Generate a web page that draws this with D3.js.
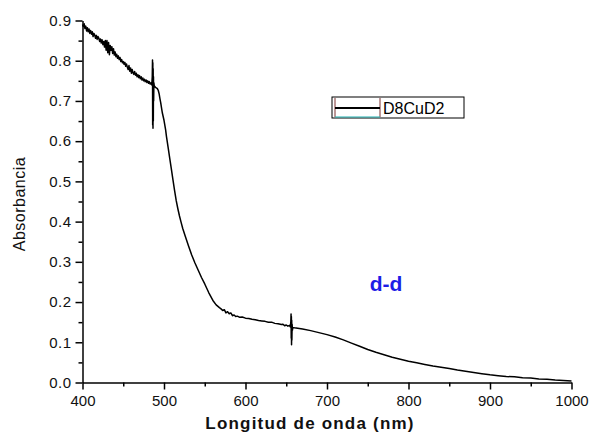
<!DOCTYPE html>
<html>
<head>
<meta charset="utf-8">
<script src="https://cdn.jsdelivr.net/npm/d3@7"></script>
<style>
  body { margin: 0; background: #fff; }
  text { font-family: "Liberation Sans", Arial, sans-serif; }
</style>
</head>
<body>
<script>
// longitud de onda (nm)
let wavelength = [
  400, 401, 402, 403, 404, 405, 406, 407, 408, 409,
  410, 411, 412, 413, 414, 415, 416, 417, 418, 419,
  420, 421, 422, 423, 424, 425, 426, 427, 428, 429,
  430, 431, 432, 433, 434, 435, 436, 437, 438, 439,
  440, 441, 442, 443, 444, 445, 446, 447, 448, 449,
  450, 451, 452, 453, 454, 455, 456, 457, 458, 459,
  460, 461, 462, 463, 464, 465, 466, 467, 468, 469,
  470, 471, 472, 473, 474, 475, 476, 477, 478, 479,
  480, 481, 482, 483, 484, 485,
  485.6, 485.9, 486.1, 486.3, 486.5, 486.7, 486.9, 487.1, 487.3, 487.6,
  488, 489, 490, 491, 492, 493, 494, 495, 496, 497, 498,
  500, 502, 503, 505, 507, 509, 511, 513, 515, 517,
  519, 521, 523, 526, 530, 534, 538, 542, 546, 550,
  555, 560, 564, 568, 570, 572, 574, 576, 578, 580,
  582, 584, 586, 588, 590,
  593, 596, 600, 604, 608, 612, 616, 620, 624, 628,
  632, 636, 640, 644, 646, 648, 650, 652, 654, 655,
  655.6, 655.9, 656.1, 656.3, 656.5, 656.7, 656.9, 657.2, 657.6, 658,
  660, 670, 680, 690, 700, 710, 720, 730, 740,
  750, 760, 770, 780, 790, 800, 810, 820, 830, 840,
  850, 860, 870, 880, 890, 900, 910, 920, 930, 940,
  950, 960, 970, 980, 990, 1000
];

// absorbancia D8CuD2
let absorbance = [
  0.890, 0.885, 0.892, 0.880, 0.886, 0.874, 0.882, 0.872, 0.879, 0.868,
  0.875, 0.866, 0.872, 0.860, 0.868, 0.864, 0.856, 0.863, 0.853, 0.860,
  0.856, 0.848, 0.854, 0.844, 0.852, 0.840, 0.848, 0.834, 0.850, 0.826,
  0.850, 0.820, 0.845, 0.815, 0.838, 0.826, 0.835, 0.818, 0.830, 0.814,
  0.822, 0.810, 0.816, 0.806, 0.812, 0.803, 0.808, 0.798, 0.803, 0.795,
  0.798, 0.791, 0.796, 0.786, 0.792, 0.784, 0.778, 0.788, 0.774, 0.782,
  0.769, 0.778, 0.770, 0.766, 0.773, 0.764, 0.769, 0.760, 0.765, 0.758,
  0.763, 0.755, 0.760, 0.752, 0.757, 0.750, 0.754, 0.748, 0.752, 0.746,
  0.750, 0.744, 0.748, 0.742, 0.745, 0.740,
  0.760, 0.802, 0.640, 0.795, 0.632, 0.780, 0.650, 0.760, 0.700, 0.745,
  0.738, 0.735, 0.733, 0.732, 0.730, 0.726, 0.718, 0.706, 0.695, 0.682, 0.670,
  0.652, 0.628, 0.612, 0.585, 0.558, 0.531, 0.504, 0.477, 0.452, 0.432,
  0.414, 0.398, 0.383, 0.364, 0.340, 0.317, 0.297, 0.279, 0.261, 0.245,
  0.223, 0.204, 0.193, 0.186, 0.183, 0.179, 0.181, 0.173, 0.176, 0.171,
  0.173, 0.166, 0.168, 0.164, 0.165,
  0.162, 0.163, 0.160, 0.159, 0.157, 0.156, 0.154, 0.153, 0.152, 0.150,
  0.150, 0.147, 0.146, 0.144, 0.145, 0.141, 0.143, 0.140, 0.142, 0.138,
  0.150, 0.170, 0.110, 0.164, 0.094, 0.155, 0.105, 0.145, 0.130, 0.137,
  0.136, 0.133, 0.129, 0.124, 0.119, 0.113, 0.106, 0.098, 0.090,
  0.082, 0.075, 0.069, 0.063, 0.058, 0.053, 0.049, 0.045, 0.041, 0.038,
  0.035, 0.031, 0.028, 0.025, 0.022, 0.019, 0.017, 0.015, 0.014, 0.012,
  0.011, 0.009, 0.008, 0.006, 0.005, 0.004
];

let xTicks = [400, 500, 600, 700, 800, 900, 1000];
let yTicks = [0.0, 0.1, 0.2, 0.3, 0.4, 0.5, 0.6, 0.7, 0.8, 0.9];
let xMinor = [450, 550, 650, 750, 850, 950];
let yMinor = [0.05, 0.15, 0.25, 0.35, 0.45, 0.55, 0.65, 0.75, 0.85];

let width = 591;
let height = 434;

let svg = d3.select('body')
  .insert('svg', 'script')
  .attr('width', width)
  .attr('height', height);

// ejes
let x = d3.scaleLinear().domain([400, 1000]).range([82.5, 571.5]);
let y = d3.scaleLinear().domain([0, 0.9]).range([382.5, 20.5]);

let tickFont = '15px';

// minor ticks
svg.append('g')
  .attr('transform', 'translate(0,' + y(0) + ')')
  .call(d3.axisBottom(x).tickValues(xMinor).tickSize(4).tickFormat(''))
  .call(g => g.select('.domain').remove());
svg.append('g')
  .attr('transform', 'translate(' + x(400) + ',0)')
  .call(d3.axisLeft(y).tickValues(yMinor).tickSize(4).tickFormat(''))
  .call(g => g.select('.domain').remove());

let xAxis = svg.append('g')
  .attr('transform', 'translate(0,' + y(0) + ')')
  .call(d3.axisBottom(x).tickValues(xTicks).tickSize(7).tickSizeOuter(0).tickPadding(6)
    .tickFormat(d3.format('d')));
xAxis.selectAll('text').attr('font-size', tickFont).attr('fill', '#111');

let yAxis = svg.append('g')
  .attr('transform', 'translate(' + x(400) + ',0)')
  .call(d3.axisLeft(y).tickValues(yTicks).tickSize(7).tickSizeOuter(0).tickPadding(4)
    .tickFormat(d3.format('.1f')));
yAxis.selectAll('text').attr('font-size', tickFont).attr('fill', '#111')
  .attr('letter-spacing', '0.5px');

svg.selectAll('.domain, .tick line').attr('stroke', '#000').attr('stroke-width', 1.5);

// curva
let data = wavelength.map((w, i) => [w, absorbance[i]]);
let line = d3.line().x(d => x(d[0])).y(d => y(d[1]));
svg.append('path')
  .datum(data)
  .attr('fill', 'none')
  .attr('stroke', '#000')
  .attr('stroke-width', 1.5)
  .attr('stroke-linejoin', 'round')
  .attr('d', line);

// titulos
svg.append('text')
  .attr('x', 310)
  .attr('y', 429)
  .attr('text-anchor', 'middle')
  .attr('font-size', '17px')
  .attr('font-weight', 'bold')
  .attr('letter-spacing', '1.2px')
  .attr('fill', '#111')
  .text('Longitud de onda (nm)');

svg.append('text')
  .attr('transform', 'translate(25,204) rotate(-90)')
  .attr('text-anchor', 'middle')
  .attr('font-size', '16px')
  .attr('letter-spacing', '0.5px')
  .attr('fill', '#111')
  .text('Absorbancia');

// leyenda
let legend = svg.append('g').attr('transform', 'translate(332,97)');
legend.append('rect')
  .attr('width', 132).attr('height', 21)
  .attr('fill', '#fff').attr('stroke', '#000').attr('stroke-width', 1);
legend.append('line')
  .attr('x1', 3).attr('x2', 3).attr('y1', 1).attr('y2', 20)
  .attr('stroke', '#7a3030').attr('stroke-width', 1);
legend.append('line')
  .attr('x1', 48).attr('x2', 48).attr('y1', 1).attr('y2', 20)
  .attr('stroke', '#7a3030').attr('stroke-width', 1);
legend.append('line')
  .attr('x1', 3).attr('x2', 48).attr('y1', 20).attr('y2', 20)
  .attr('stroke', '#20b0b0').attr('stroke-width', 1);
legend.append('line')
  .attr('x1', 3).attr('x2', 48).attr('y1', 11).attr('y2', 11)
  .attr('stroke', '#000').attr('stroke-width', 2);
legend.append('text')
  .attr('x', 51).attr('y', 16.5)
  .attr('font-size', '16px')
  .text('D8CuD2');

// anotacion
svg.append('text')
  .attr('x', 386)
  .attr('y', 291)
  .attr('text-anchor', 'middle')
  .attr('font-size', '21px')
  .attr('font-weight', 'bold')
  .attr('fill', '#1c1ce6')
  .text('d-d');
</script>
</body>
</html>
